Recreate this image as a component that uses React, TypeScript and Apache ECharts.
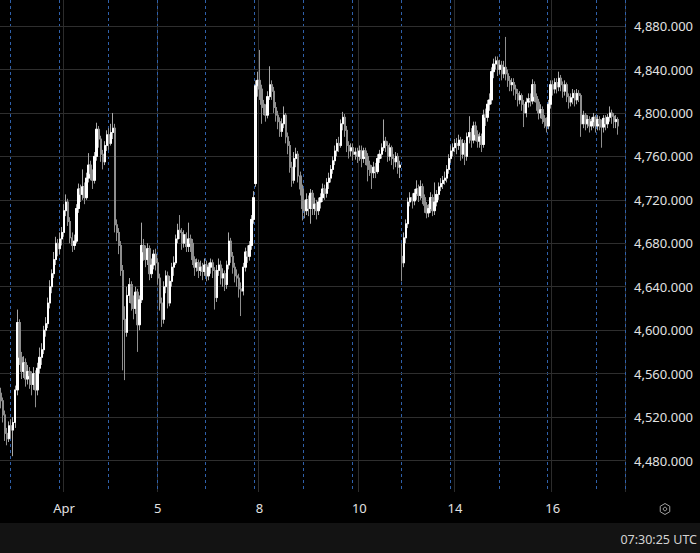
import { useEffect, useRef } from "react";
import * as echarts from "echarts";

// hourly candles [open, close, low, high], one array per trading session
const mar30 = [
  [4542, 4535, 4528, 4547], [4535, 4522, 4515, 4538], [4522, 4505, 4498, 4526], [4505, 4500, 4494, 4510],
  [4500, 4512, 4497, 4516],
];
const mar31 = [
  [4512, 4508, 4500, 4518], [4508, 4515, 4484, 4520], [4515, 4545, 4510, 4549], [4545, 4607, 4540, 4619],
  [4607, 4575, 4568, 4610], [4575, 4562, 4555, 4580], [4562, 4570, 4556, 4576], [4570, 4555, 4548, 4574],
  [4555, 4562, 4550, 4568], [4562, 4558, 4546, 4566], [4558, 4550, 4540, 4562], [4550, 4560, 4545, 4566],
  [4560, 4545, 4529, 4563], [4545, 4565, 4540, 4570], [4565, 4575, 4560, 4584], [4575, 4582, 4568, 4588],
  [4582, 4600, 4578, 4604], [4600, 4606, 4594, 4612], [4606, 4625, 4602, 4630], [4625, 4640, 4620, 4646],
  [4640, 4652, 4634, 4656], [4652, 4665, 4648, 4672], [4665, 4680, 4660, 4686], [4680, 4675, 4668, 4684],
];
const apr1 = [
  [4675, 4684, 4670, 4690], [4684, 4690, 4678, 4695], [4690, 4710, 4686, 4716], [4710, 4718, 4705, 4725],
  [4718, 4700, 4696, 4721], [4700, 4685, 4680, 4704], [4685, 4678, 4672, 4690], [4678, 4682, 4674, 4688],
  [4682, 4712, 4680, 4716], [4712, 4730, 4708, 4735], [4730, 4725, 4718, 4734], [4725, 4732, 4720, 4748],
  [4732, 4722, 4716, 4736], [4722, 4740, 4720, 4745], [4740, 4752, 4736, 4763], [4752, 4744, 4738, 4756],
  [4744, 4738, 4730, 4748], [4738, 4760, 4735, 4764], [4760, 4785, 4756, 4791], [4785, 4776, 4768, 4788],
  [4776, 4762, 4755, 4779], [4762, 4755, 4748, 4766], [4755, 4770, 4752, 4774], [4770, 4780, 4765, 4784],
];
const apr2 = [
  [4780, 4772, 4766, 4786], [4772, 4782, 4770, 4790], [4782, 4786, 4776, 4800], [4786, 4697, 4690, 4790],
  [4697, 4690, 4682, 4702], [4690, 4678, 4670, 4694], [4678, 4655, 4650, 4682], [4655, 4610, 4563, 4660],
  [4610, 4598, 4554, 4622], [4598, 4632, 4594, 4640], [4632, 4642, 4625, 4648], [4642, 4625, 4618, 4645],
  [4625, 4620, 4610, 4632], [4620, 4635, 4615, 4640], [4635, 4605, 4580, 4638], [4605, 4628, 4600, 4632],
  [4628, 4678, 4625, 4699], [4678, 4672, 4664, 4684], [4672, 4665, 4658, 4678], [4665, 4675, 4660, 4680],
  [4675, 4652, 4646, 4678], [4652, 4660, 4648, 4666], [4660, 4670, 4656, 4674], [4670, 4662, 4655, 4675],
];
const apr6 = [
  [4662, 4648, 4642, 4666], [4648, 4625, 4618, 4652], [4625, 4610, 4603, 4630], [4610, 4640, 4606, 4645],
  [4640, 4650, 4634, 4655], [4650, 4625, 4620, 4654], [4625, 4645, 4622, 4650], [4645, 4658, 4640, 4662],
  [4658, 4662, 4650, 4668], [4662, 4684, 4660, 4688], [4684, 4692, 4680, 4698], [4692, 4690, 4684, 4706],
  [4690, 4680, 4674, 4694], [4680, 4688, 4676, 4692], [4688, 4677, 4672, 4690], [4677, 4684, 4672, 4699],
  [4684, 4680, 4672, 4688], [4680, 4665, 4660, 4684], [4665, 4658, 4650, 4668], [4658, 4662, 4654, 4666],
  [4662, 4655, 4648, 4665], [4655, 4658, 4650, 4664], [4658, 4654, 4646, 4662], [4654, 4660, 4650, 4666],
];
const apr7 = [
  [4660, 4650, 4645, 4664], [4650, 4658, 4646, 4662], [4658, 4662, 4652, 4666], [4662, 4655, 4648, 4665],
  [4655, 4630, 4619, 4658], [4630, 4655, 4626, 4660], [4655, 4660, 4650, 4666], [4660, 4648, 4642, 4664],
  [4648, 4652, 4640, 4657], [4652, 4642, 4636, 4655], [4642, 4660, 4638, 4664], [4660, 4682, 4656, 4690],
  [4682, 4668, 4662, 4685], [4668, 4658, 4652, 4672], [4658, 4650, 4644, 4662], [4650, 4648, 4640, 4656],
  [4648, 4638, 4630, 4652], [4638, 4636, 4613, 4644], [4636, 4658, 4632, 4662], [4658, 4672, 4654, 4676],
  [4672, 4668, 4662, 4678], [4668, 4678, 4664, 4682], [4678, 4702, 4674, 4706], [4702, 4722, 4698, 4728],
];
const apr8 = [
  [4735, 4825, 4732, 4830], [4825, 4830, 4815, 4838], [4830, 4822, 4812, 4858], [4822, 4808, 4790, 4826],
  [4808, 4805, 4798, 4812], [4805, 4798, 4792, 4808], [4798, 4815, 4795, 4820], [4815, 4826, 4812, 4843],
  [4826, 4820, 4812, 4830], [4820, 4805, 4800, 4824], [4805, 4798, 4792, 4810], [4798, 4792, 4785, 4802],
  [4792, 4783, 4778, 4796], [4783, 4790, 4778, 4795], [4790, 4798, 4786, 4806], [4798, 4778, 4772, 4800],
  [4778, 4770, 4762, 4782], [4770, 4750, 4745, 4774], [4750, 4738, 4732, 4755], [4738, 4758, 4735, 4764],
  [4758, 4762, 4750, 4768], [4762, 4742, 4736, 4765], [4742, 4730, 4724, 4746], [4730, 4712, 4701, 4734],
];
const apr9 = [
  [4712, 4710, 4703, 4720], [4710, 4720, 4706, 4726], [4720, 4712, 4705, 4724], [4712, 4726, 4698, 4730],
  [4726, 4712, 4706, 4729], [4712, 4716, 4706, 4722], [4716, 4710, 4702, 4720], [4710, 4718, 4706, 4722],
  [4718, 4722, 4712, 4726], [4722, 4730, 4718, 4735], [4730, 4726, 4720, 4734], [4726, 4736, 4722, 4740],
  [4736, 4740, 4730, 4745], [4740, 4748, 4736, 4752], [4748, 4756, 4744, 4760], [4756, 4765, 4752, 4770],
  [4765, 4772, 4760, 4776], [4772, 4770, 4764, 4778], [4770, 4790, 4768, 4794], [4790, 4796, 4784, 4801],
  [4796, 4784, 4778, 4799], [4784, 4770, 4764, 4788], [4770, 4765, 4758, 4774], [4765, 4768, 4760, 4772],
];
const apr10 = [
  [4768, 4762, 4756, 4772], [4762, 4764, 4757, 4768], [4764, 4760, 4754, 4768], [4760, 4765, 4756, 4770],
  [4765, 4758, 4750, 4770], [4758, 4765, 4754, 4768], [4765, 4760, 4752, 4768], [4760, 4752, 4737, 4763],
  [4752, 4748, 4742, 4756], [4748, 4745, 4730, 4752], [4745, 4750, 4740, 4755], [4750, 4746, 4740, 4754],
  [4746, 4758, 4744, 4762], [4758, 4762, 4754, 4766], [4762, 4768, 4758, 4772], [4768, 4774, 4765, 4794],
  [4774, 4770, 4764, 4778], [4770, 4760, 4755, 4774], [4760, 4768, 4756, 4772], [4768, 4758, 4752, 4770],
  [4758, 4755, 4748, 4762], [4755, 4760, 4750, 4764], [4760, 4750, 4744, 4763], [4750, 4752, 4740, 4756],
];
const apr13 = [
  [4668, 4662, 4645, 4680], [4662, 4685, 4658, 4690], [4685, 4698, 4680, 4702], [4698, 4718, 4694, 4722],
  [4718, 4722, 4714, 4727], [4722, 4719, 4712, 4726], [4719, 4726, 4715, 4730], [4726, 4730, 4720, 4738],
  [4730, 4724, 4718, 4734], [4724, 4732, 4720, 4738], [4732, 4722, 4716, 4735], [4722, 4715, 4708, 4725],
  [4715, 4708, 4703, 4718], [4708, 4712, 4704, 4716], [4712, 4722, 4708, 4727], [4722, 4710, 4705, 4725],
  [4710, 4718, 4706, 4736], [4718, 4725, 4714, 4729], [4725, 4732, 4720, 4736], [4732, 4735, 4728, 4740],
  [4735, 4738, 4730, 4742], [4738, 4740, 4734, 4746], [4740, 4748, 4736, 4752], [4748, 4758, 4744, 4762],
];
const apr14 = [
  [4758, 4765, 4754, 4770], [4765, 4768, 4760, 4772], [4768, 4772, 4764, 4776], [4772, 4770, 4762, 4777],
  [4770, 4775, 4766, 4780], [4775, 4762, 4756, 4778], [4762, 4772, 4758, 4776], [4772, 4760, 4752, 4775],
  [4760, 4778, 4756, 4782], [4778, 4782, 4772, 4797], [4782, 4775, 4768, 4786], [4775, 4788, 4772, 4792],
  [4788, 4780, 4774, 4792], [4780, 4774, 4768, 4784], [4774, 4778, 4768, 4782], [4778, 4771, 4764, 4781],
  [4771, 4798, 4768, 4803], [4798, 4796, 4788, 4804], [4796, 4808, 4792, 4812], [4808, 4812, 4802, 4818],
  [4812, 4838, 4808, 4842], [4838, 4845, 4832, 4850], [4845, 4848, 4840, 4852], [4848, 4840, 4834, 4852],
];
const apr15 = [
  [4840, 4844, 4836, 4849], [4844, 4836, 4830, 4848], [4836, 4842, 4832, 4848], [4842, 4836, 4830, 4870],
  [4836, 4830, 4824, 4840], [4830, 4826, 4820, 4834], [4826, 4828, 4820, 4832], [4828, 4822, 4816, 4832],
  [4822, 4818, 4812, 4826], [4818, 4812, 4806, 4822], [4812, 4816, 4808, 4820], [4816, 4808, 4802, 4818],
  [4808, 4800, 4787, 4812], [4800, 4810, 4796, 4814], [4810, 4813, 4805, 4818], [4813, 4811, 4806, 4818],
  [4811, 4826, 4808, 4831], [4826, 4815, 4810, 4829], [4815, 4810, 4802, 4818], [4810, 4800, 4794, 4813],
  [4800, 4803, 4795, 4808], [4803, 4795, 4790, 4806], [4795, 4792, 4786, 4798], [4792, 4788, 4782, 4796],
];
const apr16 = [
  [4788, 4808, 4785, 4812], [4808, 4826, 4804, 4830], [4826, 4822, 4816, 4830], [4822, 4828, 4818, 4832],
  [4828, 4824, 4818, 4832], [4824, 4832, 4820, 4838], [4832, 4826, 4820, 4835], [4826, 4820, 4814, 4829],
  [4820, 4826, 4816, 4830], [4826, 4815, 4810, 4828], [4815, 4810, 4804, 4818], [4810, 4814, 4806, 4818],
  [4814, 4818, 4808, 4822], [4818, 4812, 4806, 4821], [4812, 4818, 4808, 4822], [4818, 4816, 4810, 4821],
  [4816, 4790, 4778, 4818], [4790, 4798, 4786, 4802], [4798, 4790, 4784, 4800], [4790, 4794, 4786, 4798],
  [4794, 4788, 4782, 4797], [4788, 4792, 4784, 4796], [4792, 4796, 4786, 4800], [4796, 4788, 4782, 4798],
];
const apr17 = [
  [4788, 4794, 4784, 4798], [4794, 4790, 4784, 4797], [4790, 4787, 4768, 4794], [4787, 4795, 4782, 4798],
  [4795, 4790, 4784, 4798], [4790, 4796, 4786, 4799], [4796, 4800, 4792, 4806], [4800, 4797, 4790, 4803],
  [4797, 4792, 4786, 4800], [4792, 4794, 4786, 4798], [4794, 4788, 4780, 4796],
];

const sessions = [mar30, mar31, apr1, apr2, apr6, apr7, apr8, apr9, apr10, apr13, apr14, apr15, apr16, apr17];

// date labels on the time axis and the bar they sit on
const dayLabelBar = [31, 77, 127, 176, 223, 271];
const dayLabelText = ["Apr", "5", "8", "10", "14", "16"];

const priceTicks = [4480, 4520, 4560, 4600, 4640, 4680, 4720, 4760, 4800, 4840, 4880];
const priceMin = 4451;
const priceMax = 4904;
const emptyBarsRight = 3;
const clockText = "07:30:25 UTC";

const fmtPrice = (v: number) =>
  v.toLocaleString("en-US", { minimumFractionDigits: 3, maximumFractionDigits: 3 });

export default function App() {
  const ref = useRef<HTMLDivElement>(null);

  useEffect(() => {
    if (!ref.current) return;
    const chart = echarts.init(ref.current, undefined, { renderer: "svg" });

    const candles = sessions.flat();
    const bodies = candles.map(([o, c]) => [o, c, Math.min(o, c), Math.max(o, c)]);
    const sessionStarts: number[] = [];
    let n = 0;
    sessions.forEach((s, k) => {
      if (k > 0) sessionStarts.push(n);
      n += s.length;
    });
    const categories = Array.from({ length: candles.length + emptyBarsRight }, (_, i) => String(i));

    const font = "Noto Sans";
    const hex = Array.from({ length: 6 }, (_, k) => {
      const a = (Math.PI / 3) * k + Math.PI / 6;
      return [665 + 5.5 * Math.cos(a), 509 + 5.5 * Math.sin(a)];
    });

    chart.setOption({
      animation: false,
      backgroundColor: "#000000",
      grid: { left: 0, top: 0, width: 625, height: 492, outerBoundsMode: "none" },
      xAxis: [
        {
          type: "category",
          data: categories,
          boundaryGap: true,
          axisLine: { show: false },
          axisTick: { show: false },
          axisLabel: {
            interval: (i: number) => dayLabelBar.includes(i),
            formatter: (_v: string, i: number) => dayLabelText[dayLabelBar.indexOf(i)] ?? "",
            color: "#e2e2e2",
            fontSize: 13,
            fontFamily: font,
            margin: 9,
          },
          splitLine: {
            show: true,
            interval: (i: number) => dayLabelBar.includes(i),
            lineStyle: { color: "#2c2c2c", width: 1 },
          },
        },
        {
          type: "category",
          data: categories,
          boundaryGap: true,
          position: "bottom",
          axisLine: { show: false },
          axisTick: { show: false },
          axisLabel: { show: false },
          splitLine: {
            show: true,
            interval: (i: number) => sessionStarts.includes(i),
            lineStyle: { color: "#2f60aa", width: 1, type: [3, 3] },
          },
        },
      ],
      yAxis: {
        type: "value",
        position: "right",
        min: priceMin,
        max: priceMax,
        minInterval: 40,
        maxInterval: 40,
        axisLine: { show: false },
        axisTick: { show: false },
        splitLine: { show: false },
        axisLabel: {
          color: "#e2e2e2",
          fontSize: 13,
          fontFamily: font,
          margin: 9,
          formatter: (v: number) => (priceTicks.some((t) => Math.abs(t - v) < 1e-6) ? fmtPrice(v) : ""),
        },
      },
      series: [
        {
          name: "wicks",
          type: "candlestick",
          data: candles,
          barWidth: "95%",
          z: 2,
          itemStyle: {
            color: "transparent",
            color0: "transparent",
            borderColor: "#a8a8a8",
            borderColor0: "#8f8f8f",
            borderWidth: 1,
          },
          markLine: {
            silent: true,
            symbol: "none",
            z: 1,
            label: { show: false },
            lineStyle: { color: "#2e2e2e", type: "solid", width: 1 },
            data: priceTicks.map((v) => ({ yAxis: v })),
          },
        },
        {
          name: "bodies",
          type: "candlestick",
          data: bodies,
          barWidth: "95%",
          z: 3,
          itemStyle: {
            color: "#ffffff",
            color0: "#8e8e8e",
            borderColor: "#ffffff",
            borderColor0: "#8e8e8e",
            borderWidth: 1,
          },
        },
      ],
      graphic: [
        { type: "rect", shape: { x: 0, y: 523, width: 700, height: 30 }, style: { fill: "#131313" }, silent: true },
        {
          type: "text",
          x: 697,
          y: 539,
          style: { text: clockText, fill: "#d4d4d4", font: `12.5px "${font}"`, align: "right", verticalAlign: "middle" },
        },
        { type: "polygon", shape: { points: hex }, style: { fill: "none", stroke: "#a0a0a0", lineWidth: 1 } },
        { type: "circle", shape: { cx: 665, cy: 509, r: 1.8 }, style: { fill: "none", stroke: "#a0a0a0", lineWidth: 1 } },
      ],
    });

    return () => chart.dispose();
  }, []);

  return (
    <div
      ref={ref}
      style={{ position: "fixed", left: 0, top: 0, width: 700, height: 553, background: "#000" }}
    />
  );
}
